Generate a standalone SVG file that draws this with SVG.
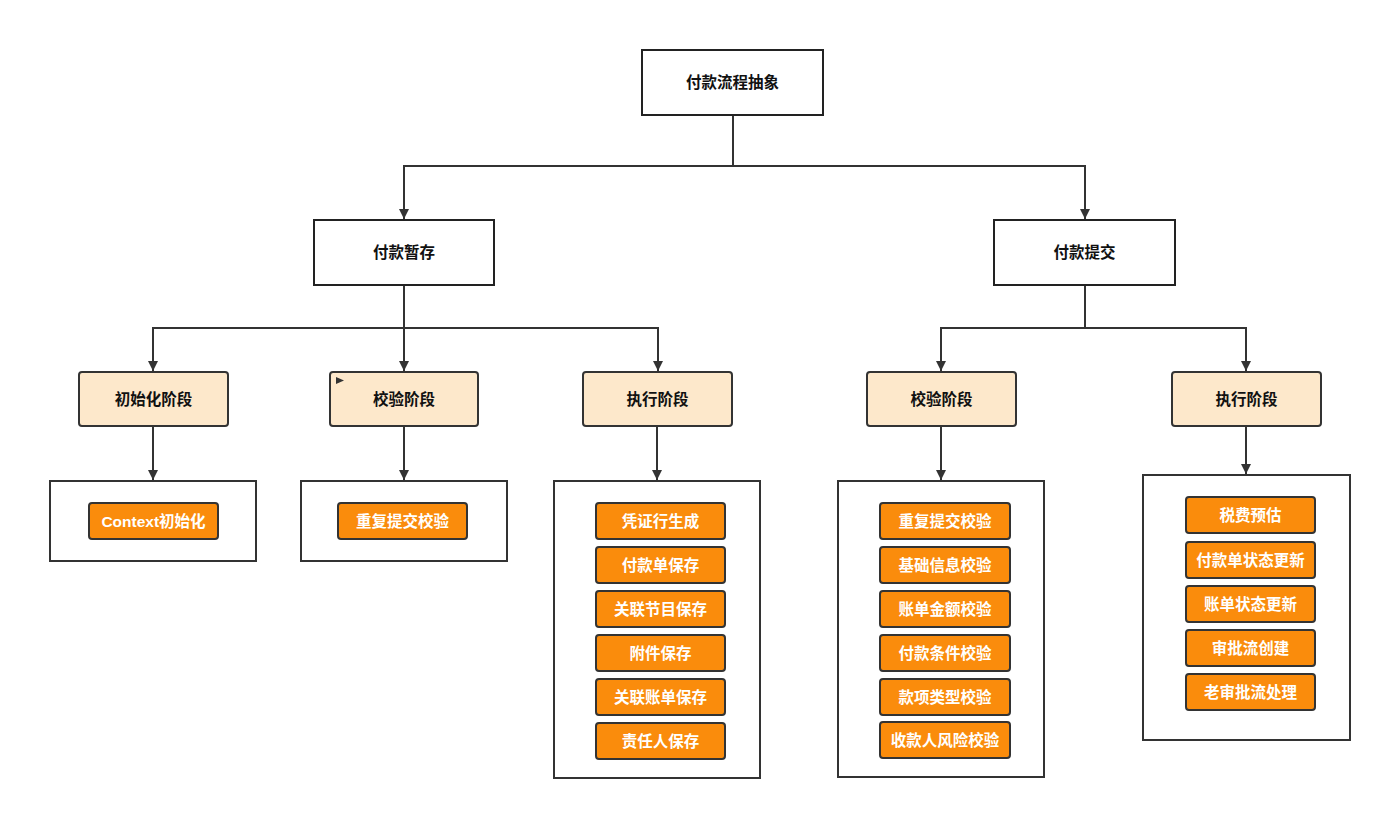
<svg xmlns="http://www.w3.org/2000/svg" width="1400" height="828" viewBox="0 0 1400 828">
<style>
text{font-family:"Liberation Sans","Noto Sans CJK SC",sans-serif;font-size:15.5px;font-weight:bold;text-anchor:middle;dominant-baseline:central}
.top{fill:#fff;stroke:#222;stroke-width:2}
.stage{fill:#FDE8CB;stroke:#333;stroke-width:2}
.cont{fill:#fff;stroke:#333;stroke-width:2}
.item{fill:#FA8C0C;stroke:#333;stroke-width:2}
.dark{fill:#111}
.white{fill:#fff}
.ln{fill:none;stroke:#333;stroke-width:2}
</style>
<defs>
<marker id="ah" viewBox="0 0 10 10" refX="10" refY="5" markerWidth="5.5" markerHeight="5" orient="auto" markerUnits="strokeWidth">
<path d="M0,0 L10,5 L0,10 z" fill="#333"/>
</marker>
</defs>
<rect width="1400" height="828" fill="#fff"/>
<g id="connectors">
<path class="ln" d="M733,115 V166 H404 V219" marker-end="url(#ah)"/>
<path class="ln" d="M733,166 H1085 V219" marker-end="url(#ah)"/>
<path class="ln" d="M404,285 V328 H153 V371" marker-end="url(#ah)"/>
<path class="ln" d="M404,328 V371" marker-end="url(#ah)"/>
<path class="ln" d="M404,328 H658 V371" marker-end="url(#ah)"/>
<path class="ln" d="M1085,285 V328 H941 V371" marker-end="url(#ah)"/>
<path class="ln" d="M1085,328 H1246 V371" marker-end="url(#ah)"/>
<path class="ln" d="M153,426 V480" marker-end="url(#ah)"/>
<path class="ln" d="M404,426 V480" marker-end="url(#ah)"/>
<path class="ln" d="M657,426 V480" marker-end="url(#ah)"/>
<path class="ln" d="M941,426 V480" marker-end="url(#ah)"/>
<path class="ln" d="M1246,426 V474" marker-end="url(#ah)"/>
</g>
<g id="root"><rect class="top" x="642" y="50" width="181" height="65"/><text class="dark" x="732.5" y="82.5">付款流程抽象</text></g>
<g id="save"><rect class="top" x="314" y="220" width="180" height="65"/><text class="dark" x="404" y="252.5">付款暂存</text></g>
<g id="submit"><rect class="top" x="994" y="220" width="181" height="65"/><text class="dark" x="1084.5" y="252.5">付款提交</text></g>

<g id="save-init"><rect class="stage" x="79" y="372" width="149" height="54" rx="3"/><text class="dark" x="153.5" y="399">初始化阶段</text></g>
<g id="save-check"><rect class="stage" x="330" y="372" width="148" height="54" rx="3"/><polygon points="336,377 344,380.5 336,384" fill="#333"/><text class="dark" x="404" y="399">校验阶段</text></g>
<g id="save-exec"><rect class="stage" x="583" y="372" width="149" height="54" rx="3"/><text class="dark" x="657.5" y="399">执行阶段</text></g>
<g id="submit-check"><rect class="stage" x="867" y="372" width="149" height="54" rx="3"/><text class="dark" x="941.5" y="399">校验阶段</text></g>
<g id="submit-exec"><rect class="stage" x="1172" y="372" width="149" height="54" rx="3"/><text class="dark" x="1246.5" y="399">执行阶段</text></g>

<g id="save-init-box"><rect class="cont" x="50" y="481" width="206" height="80"/>
<rect class="item" x="89" y="503" width="129" height="36" rx="3"/><text class="white" x="153.5" y="521">Context初始化</text></g>

<g id="save-check-box"><rect class="cont" x="301" y="481" width="206" height="80"/>
<rect class="item" x="338" y="503" width="129" height="36" rx="3"/><text class="white" x="402.5" y="521">重复提交校验</text></g>

<g id="save-exec-box"><rect class="cont" x="554" y="481" width="206" height="297"/>
<rect class="item" x="596" y="503" width="129" height="36" rx="3"/><text class="white" x="660.5" y="521">凭证行生成</text>
<rect class="item" x="596" y="547" width="129" height="36" rx="3"/><text class="white" x="660.5" y="565">付款单保存</text>
<rect class="item" x="596" y="591" width="129" height="36" rx="3"/><text class="white" x="660.5" y="609">关联节目保存</text>
<rect class="item" x="596" y="635" width="129" height="36" rx="3"/><text class="white" x="660.5" y="653">附件保存</text>
<rect class="item" x="596" y="679" width="129" height="36" rx="3"/><text class="white" x="660.5" y="697">关联账单保存</text>
<rect class="item" x="596" y="723" width="129" height="36" rx="3"/><text class="white" x="660.5" y="741">责任人保存</text>
</g>

<g id="submit-check-box"><rect class="cont" x="838" y="481" width="206" height="296"/>
<rect class="item" x="880" y="503" width="130" height="36" rx="3"/><text class="white" x="945" y="521">重复提交校验</text>
<rect class="item" x="880" y="547" width="130" height="36" rx="3"/><text class="white" x="945" y="565">基础信息校验</text>
<rect class="item" x="880" y="591" width="130" height="36" rx="3"/><text class="white" x="945" y="609">账单金额校验</text>
<rect class="item" x="880" y="635" width="130" height="36" rx="3"/><text class="white" x="945" y="653">付款条件校验</text>
<rect class="item" x="880" y="679" width="130" height="36" rx="3"/><text class="white" x="945" y="697">款项类型校验</text>
<rect class="item" x="880" y="722" width="130" height="36" rx="3"/><text class="white" x="945" y="740">收款人风险校验</text>
</g>

<g id="submit-exec-box"><rect class="cont" x="1143" y="475" width="207" height="265"/>
<rect class="item" x="1186" y="497" width="129" height="36" rx="3"/><text class="white" x="1250.5" y="515">税费预估</text>
<rect class="item" x="1186" y="542" width="129" height="36" rx="3"/><text class="white" x="1250.5" y="560">付款单状态更新</text>
<rect class="item" x="1186" y="586" width="129" height="36" rx="3"/><text class="white" x="1250.5" y="604">账单状态更新</text>
<rect class="item" x="1186" y="630" width="129" height="36" rx="3"/><text class="white" x="1250.5" y="648">审批流创建</text>
<rect class="item" x="1186" y="674" width="129" height="36" rx="3"/><text class="white" x="1250.5" y="692">老审批流处理</text>
</g>
</svg>
